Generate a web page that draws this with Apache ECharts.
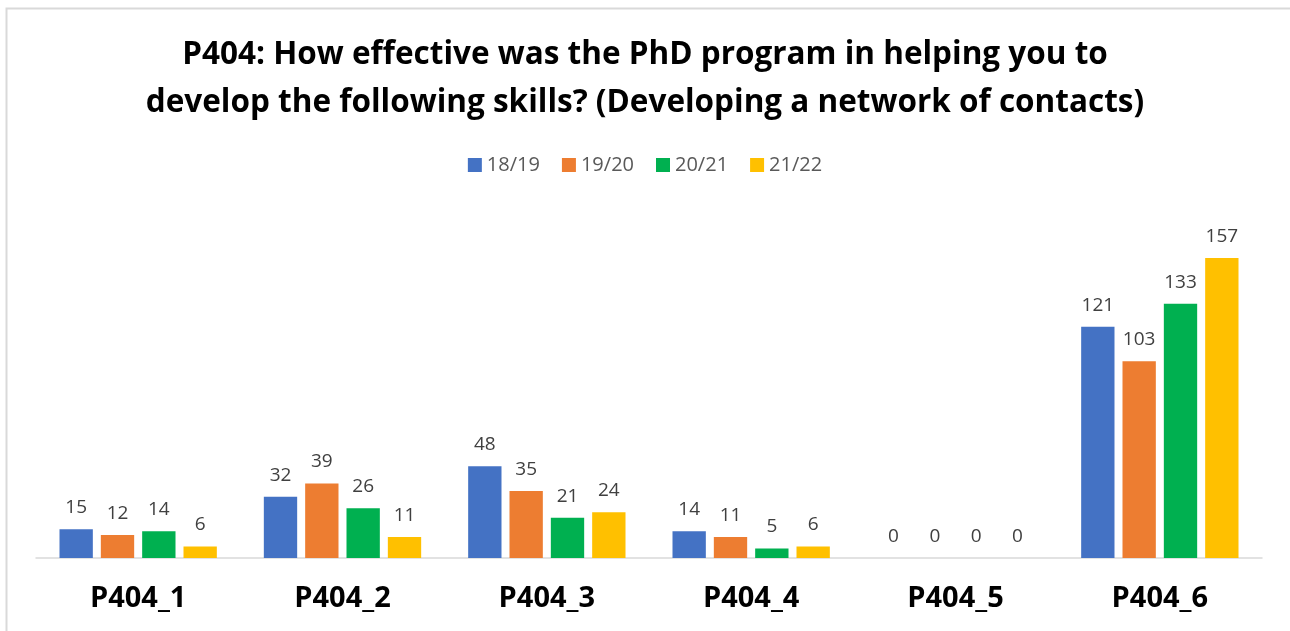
<!DOCTYPE html>
<html>
<head>
<meta charset="utf-8">
<script src="https://cdn.jsdelivr.net/npm/echarts@6/dist/echarts.min.js"></script>
<style>
html, body { margin: 0; padding: 0; background: #fff; }
#chartView { width: 1290px; height: 631px; }
</style>
</head>
<body>
<div id="chartView"></div>
<script>
var categories = ['P404_1', 'P404_2', 'P404_3', 'P404_4', 'P404_5', 'P404_6'];
var years = ['18/19', '19/20', '20/21', '21/22'];
var colors = ['#4472c4', '#ed7d31', '#00b050', '#ffc000'];
var v1819 = [15, 32, 48, 14, 0, 121];
var v1920 = [12, 39, 35, 11, 0, 103];
var v2021 = [14, 26, 21, 5, 0, 133];
var v2122 = [6, 11, 24, 6, 0, 157];

function initBar(chart) {
    var font = 'Open Sans, Noto Sans, sans-serif';
    var all = [v1819, v1920, v2021, v2122];
    var series = years.map(function (name, i) {
        return {
            name: name,
            type: 'bar',
            data: all[i],
            barGap: '24%',
            barCategoryGap: '23%',
            itemStyle: { color: colors[i] },
            label: {
                show: true,
                position: 'top',
                distance: 12,
                color: '#404040',
                fontSize: 19,
                fontFamily: font
            }
        };
    });
    chart.setOption({
        textStyle: { fontFamily: font },
        title: {
            text: 'P404: How effective was the PhD program in helping you to\ndevelop the following skills? (Developing a network of contacts)',
            left: 'center',
            top: 26,
            textStyle: {
                fontSize: 31.5,
                fontWeight: 'bold',
                color: '#000',
                lineHeight: 48,
                fontFamily: font
            }
        },
        legend: {
            top: 150,
            left: 'center',
            itemWidth: 14,
            itemHeight: 14,
            itemGap: 22,
            icon: 'rect',
            textStyle: { fontSize: 20, color: '#595959', fontFamily: font }
        },
        grid: { left: 36, right: 28, top: 214, bottom: 73 },
        xAxis: {
            type: 'category',
            data: categories,
            axisLine: { lineStyle: { color: '#d9d9d9', width: 1.5 } },
            axisTick: { show: false },
            axisLabel: {
                margin: 26,
                fontSize: 29,
                fontWeight: 'bold',
                color: '#000',
                fontFamily: font
            }
        },
        yAxis: {
            type: 'value',
            min: 0,
            max: 180,
            show: false,
            splitLine: { show: false }
        },
        graphic: [{
            type: 'rect',
            shape: { x: 6.5, y: 8.5, width: 1300, height: 700 },
            style: { fill: 'none', stroke: '#d9d9d9', lineWidth: 2 },
            silent: true
        }],
        series: series
    });
}

initBar(echarts.init(document.getElementById('chartView')));
</script>
</body>
</html>
